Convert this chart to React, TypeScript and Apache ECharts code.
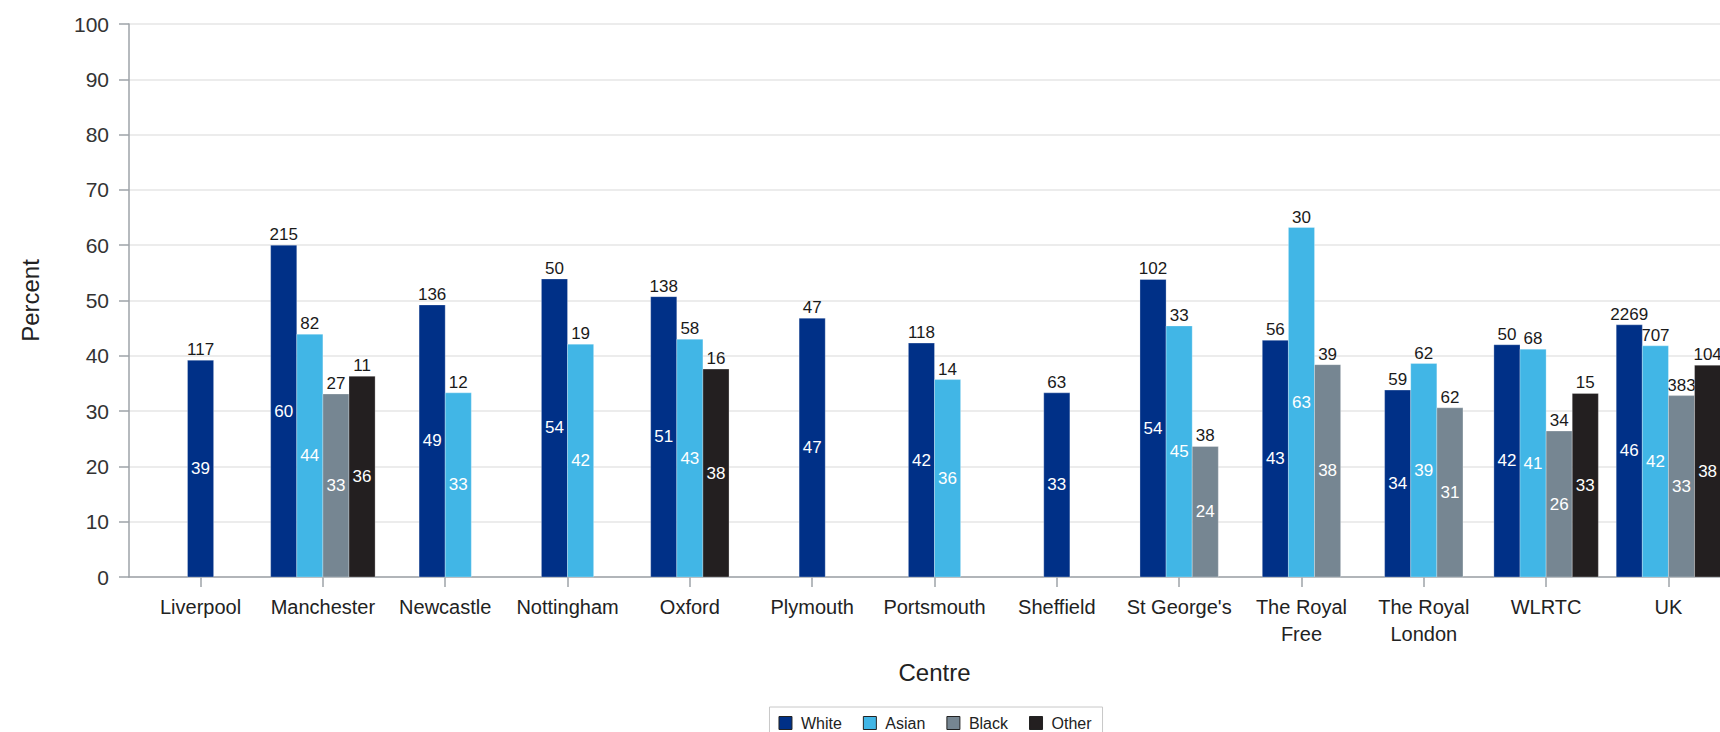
import React, { useEffect, useRef } from "react";
import * as echarts from "echarts";

// ---------- data ----------
const centres = [
  "Liverpool",
  "Manchester",
  "Newcastle",
  "Nottingham",
  "Oxford",
  "Plymouth",
  "Portsmouth",
  "Sheffield",
  "St George's",
  "The Royal\nFree",
  "The Royal\nLondon",
  "WLRTC",
  "UK",
];
const groups = ["White", "Asian", "Black", "Other"];

// percent (bar height)
const whitePct = [39.2, 60.0, 49.2, 53.9, 50.7, 46.8, 42.3, 33.3, 53.8, 42.8, 33.8, 42.0, 45.6];
const asianPct = [null, 43.9, 33.3, 42.1, 43.0, null, 35.7, null, 45.4, 63.2, 38.6, 41.2, 41.8];
const blackPct = [null, 33.1, null, null, null, null, null, null, 23.6, 38.4, 30.6, 26.4, 32.8];
const otherPct = [null, 36.3, null, null, 37.6, null, null, null, null, null, null, 33.2, 38.3];

// counts (label above bar)
const whiteN = [117, 215, 136, 50, 138, 47, 118, 63, 102, 56, 59, 50, 2269];
const asianN = [null, 82, 12, 19, 58, null, 14, null, 33, 30, 62, 68, 707];
const blackN = [null, 27, null, null, null, null, null, null, 38, 39, 62, 34, 383];
const otherN = [null, 11, null, null, 16, null, null, null, null, null, null, 15, 104];

const yTicks = [0, 10, 20, 30, 40, 50, 60, 70, 80, 90, 100];

const COLORS = ["#003087", "#41B6E6", "#768692", "#231F20"];
const FONT = "'Liberation Sans', Arial, sans-serif";

const pctSets = [whitePct, asianPct, blackPct, otherPct];
const nSets = [whiteN, asianN, blackN, otherN];

export default function App() {
  const ref = useRef<HTMLDivElement>(null);

  useEffect(() => {
    if (!ref.current) return;
    const chart = echarts.init(ref.current, null, { renderer: "svg" });

    // slot of each present bar within its centre
    const seriesData = groups.map((_, g) =>
      centres
        .map((_, c) => {
          const v = pctSets[g][c];
          if (v == null) return null;
          const present = pctSets.map((s) => s[c] != null);
          const count = present.filter(Boolean).length;
          const slot = present.slice(0, g).filter(Boolean).length;
          return [c, v, nSets[g][c], slot, count];
        })
        .filter((d) => d != null)
    );

    const BAR_UNITS = 0.2135;

    const makeRender = (color: string) => (params: any, api: any) => {
      const c = api.value(0);
      const v = api.value(1);
      const n = api.value(2);
      const slot = api.value(3);
      const count = api.value(4);
      const unit = api.size([1, 0])[0];
      const bw = unit * BAR_UNITS;
      const base = api.coord([c, 0]);
      const topP = api.coord([c, v]);
      const cx = base[0] + (slot - (count - 1) / 2) * bw;
      const top = topP[1];
      const bottom = base[1];
      return {
        type: "group",
        children: [
          {
            type: "rect",
            z2: 10,
            shape: { x: cx - bw / 2, y: top, width: bw, height: bottom - top },
            style: { fill: color, stroke: "rgba(255,255,255,0.28)", lineWidth: 1 },
          },
          {
            type: "text",
            z2: 5,
            x: cx,
            y: top - 2,
            style: {
              text: String(n),
              align: "center",
              verticalAlign: "bottom",
              fontSize: 17,
              fontFamily: FONT,
              fill: "#1a1a1a",
            },
          },
          {
            type: "text",
            z2: 20,
            x: cx,
            y: (top + bottom) / 2,
            style: {
              text: String(Math.round(v)),
              align: "center",
              verticalAlign: "middle",
              fontSize: 17,
              fontFamily: FONT,
              fill: "#ffffff",
            },
          },
        ],
      };
    };

    const idx = centres.map((_, i) => i);
    const axisColor = "#9ea3a8";

    chart.setOption({
      animation: false,
      color: COLORS,
      textStyle: { fontFamily: FONT },
      grid: { left: 129, right: 130, top: 24, bottom: 155 },
      xAxis: {
        type: "value",
        min: -0.585,
        max: 12.585,
        axisLine: { show: true, onZero: false, lineStyle: { color: axisColor, width: 1.5 } },
        axisTick: { show: true, length: 10, customValues: idx, lineStyle: { color: axisColor, width: 1.5 } },
        axisLabel: {
          customValues: idx,
          formatter: (v: number) => centres[Math.round(v)] ?? "",
          fontSize: 20,
          lineHeight: 27,
          color: "#222",
          margin: 16,
          fontFamily: FONT,
        },
        splitLine: { show: false },
        name: "Centre",
        nameLocation: "middle",
        nameGap: 83,
        nameTextStyle: { fontSize: 24, color: "#222", fontFamily: FONT },
      },
      yAxis: {
        type: "value",
        min: yTicks[0],
        max: yTicks[yTicks.length - 1],
        interval: yTicks[1] - yTicks[0],
        axisLine: { show: true, onZero: false, lineStyle: { color: axisColor, width: 1.5 } },
        axisTick: { show: true, length: 10, lineStyle: { color: axisColor, width: 1.5 } },
        axisLabel: { fontSize: 21, color: "#333", margin: 20, fontFamily: FONT },
        splitLine: { show: true, lineStyle: { color: "#e6e6e6", width: 1.5 } },
        name: "Percent",
        nameLocation: "middle",
        nameRotate: 90,
        nameGap: 87,
        nameTextStyle: { fontSize: 24, color: "#222", fontFamily: FONT },
      },
      legend: {
        data: groups,
        left: "center",
        top: 707,
        icon: "rect",
        itemWidth: 13,
        itemHeight: 13,
        itemGap: 21,
        padding: [8, 11, 8, 9],
        borderColor: "#c8c8c8",
        borderWidth: 1,
        itemStyle: { borderColor: "#222", borderWidth: 1 },
        textStyle: { fontSize: 16, color: "#222", fontFamily: FONT, padding: [0, 0, 0, 4] },
        selectedMode: false,
      },
      series: groups.map((name, g) => ({
        name,
        type: "custom",
        itemStyle: { color: COLORS[g] },
        renderItem: makeRender(COLORS[g]),
        encode: { x: 0, y: 1 },
        data: seriesData[g],
        clip: false,
      })),
    });

    return () => chart.dispose();
  }, []);

  return (
    <div
      style={{
        position: "absolute",
        left: 0,
        top: 0,
        width: 1720,
        height: 732,
        overflow: "hidden",
        background: "#fff",
      }}
    >
      <div ref={ref} style={{ width: 1870, height: 732 }} />
    </div>
  );
}
